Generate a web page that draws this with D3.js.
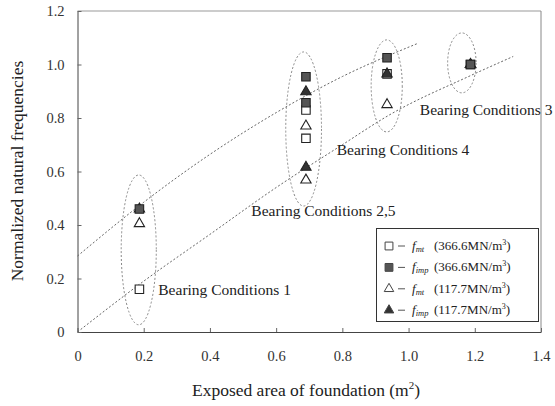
<!DOCTYPE html>
<html>
<head>
<meta charset="utf-8">
<script src="https://cdn.jsdelivr.net/npm/d3@7"></script>
<style>
  body { margin: 0; background: #fff; }
  text { font-family: "Liberation Serif", "Times New Roman", serif; fill: #222; }
</style>
</head>
<body>
<svg id="chart"></svg>
<script>
// data
// bearing conditions: 1, 2, 5, 4, 3
var exposedArea = [0.187, 0.69, 0.69, 0.935, 1.187]
var fmt366 = [0.16, 0.83, 0.724, 0.965, 1.0]   // open square
var fimp366 = [0.46, 0.954, 0.857, 1.025, 1.0] // filled square
var fmt117 = [0.405, 0.77, 0.568, 0.85, 1.0]   // open triangle
var fimp117 = [0.46, 0.898, 0.616, 0.965, 1.0] // filled triangle

// dotted trend curves
var upperCurveX = [0, 0.2, 0.4, 0.6, 0.8, 1.03]
var upperCurveY = [0.284, 0.485, 0.664, 0.82, 0.955, 1.08]
var lowerCurveX = [0, 0.2, 0.4, 0.6, 0.8, 0.94, 1.19, 1.316]
var lowerCurveY = [0, 0.19, 0.365, 0.54, 0.7, 0.81, 0.96, 1.03]

// groups circled by dashed ellipses
var groupCx = [0.185, 0.683, 0.934, 1.161]
var groupCy = [0.307, 0.759, 0.92, 1.006]
var groupRx = [0.053, 0.054, 0.047, 0.043]
var groupRy = [0.28, 0.288, 0.172, 0.112]

var groupLabels = ["Bearing Conditions 1", "Bearing Conditions 2,5", "Bearing Conditions 4", "Bearing Conditions 3"]
var labelX = [0.244, 0.525, 0.783, 1.034]
var labelY = [0.138, 0.434, 0.662, 0.811]

var xTicks = [0, 0.2, 0.4, 0.6, 0.8, 1.0, 1.2, 1.4]
var xTickLabels = ["0", "0.2", "0.4", "0.6", "0.8", "1.0", "1.2", "1.4"]
var yTicks = [0, 0.2, 0.4, 0.6, 0.8, 1.0, 1.2]
var yTickLabels = ["0", "0.2", "0.4", "0.6", "0.8", "1.0", "1.2"]

var legendSub = ["mt", "imp", "mt", "imp"]
var legendUnit = ["366.6", "366.6", "117.7", "117.7"]

var width = 555,
  height = 406

var svg = d3.select("#chart")
  .attr("width", width)
  .attr("height", height)

var x = d3.scaleLinear().domain([0, 1.4]).range([77.5, 541])
var y = d3.scaleLinear().domain([0, 1.2]).range([332, 11])

/*
 * Frame
 */

svg.append("line")
  .attr("x1", x(0)).attr("x2", x(1.4))
  .attr("y1", y(1.2)).attr("y2", y(1.2))
  .style("stroke", "#999")
svg.append("line")
  .attr("x1", x(1.4)).attr("x2", x(1.4))
  .attr("y1", y(1.2)).attr("y2", y(0))
  .style("stroke", "#888")

var xAxis = svg.append("g")
  .attr("transform", "translate(0," + y(0) + ")")
  .call(d3.axisBottom(x)
    .tickValues(xTicks)
    .tickFormat(function (d, i) { return xTickLabels[i] })
    .tickSizeInner(-4)
    .tickSizeOuter(0)
    .tickPadding(19))

var yAxis = svg.append("g")
  .attr("transform", "translate(" + x(0) + ",0)")
  .call(d3.axisLeft(y)
    .tickValues(yTicks)
    .tickFormat(function (d, i) { return yTickLabels[i] })
    .tickSizeInner(-4)
    .tickSizeOuter(0)
    .tickPadding(13))

svg.selectAll(".domain").style("stroke", "#444")
svg.selectAll(".tick line").style("stroke", "#666")
svg.selectAll(".tick text")
  .style("font-family", "Liberation Serif")
  .style("font-size", "14.5px")
  .style("fill", "#333")

// axis titles
var xTitle = svg.append("text")
  .attr("x", 306)
  .attr("y", 396)
  .attr("text-anchor", "middle")
  .style("font-size", "17.5px")
xTitle.append("tspan").text("Exposed area of foundation (m")
xTitle.append("tspan").attr("dy", -7).style("font-size", "11px").text("2")
xTitle.append("tspan").attr("dy", 7).text(")")

svg.append("text")
  .attr("transform", "translate(23,171) rotate(-90)")
  .attr("text-anchor", "middle")
  .style("font-size", "17.5px")
  .text("Normalized natural frequencies")

/*
 * Trend curves and ellipses
 */

var line = d3.line()
  .x(function (d) { return x(d[0]) })
  .y(function (d) { return y(d[1]) })
  .curve(d3.curveMonotoneX)

var curves = [d3.zip(upperCurveX, upperCurveY), d3.zip(lowerCurveX, lowerCurveY)]

svg.selectAll("path.trend")
  .data(curves)
  .enter()
  .append("path")
  .attr("class", "trend")
  .attr("d", line)
  .style("fill", "none")
  .style("stroke", "#666")
  .style("stroke-width", 1)
  .style("stroke-dasharray", "2,2")

svg.selectAll("ellipse.group")
  .data(groupCx)
  .enter()
  .append("ellipse")
  .attr("class", "group")
  .attr("cx", function (d) { return x(d) })
  .attr("cy", function (d, i) { return y(groupCy[i]) })
  .attr("rx", function (d, i) { return x(groupRx[i]) - x(0) })
  .attr("ry", function (d, i) { return y(0) - y(groupRy[i]) })
  .style("fill", "none")
  .style("stroke", "#888")
  .style("stroke-width", 1)
  .style("stroke-dasharray", "2,2")

svg.selectAll("text.glabel")
  .data(groupLabels)
  .enter()
  .append("text")
  .attr("class", "glabel")
  .attr("x", function (d, i) { return x(labelX[i]) })
  .attr("y", function (d, i) { return y(labelY[i]) })
  .style("font-size", "15.5px")
  .text(function (d) { return d })

/*
 * Markers
 */

var styles = [
  { values: fmt366, shape: d3.symbolSquare, size: 72, fill: "#fff", stroke: "#222" },
  { values: fmt117, shape: d3.symbolTriangle, size: 46, fill: "#fff", stroke: "#222" },
  { values: fimp117, shape: d3.symbolTriangle, size: 46, fill: "#333", stroke: "#222" },
  { values: fimp366, shape: d3.symbolSquare, size: 72, fill: "#555", stroke: "#222" }
]

styles.forEach(function (s) {
  svg.append("g")
    .selectAll("path")
    .data(s.values)
    .enter()
    .append("path")
    .attr("d", d3.symbol().type(s.shape).size(s.size))
    .attr("transform", function (d, i) {
      return "translate(" + x(exposedArea[i]) + "," + y(d) + ")"
    })
    .style("fill", s.fill)
    .style("stroke", s.stroke)
    .style("stroke-width", 1.1)
})

/*
 * Legend
 */

var legendStyles = [styles[0], styles[3], styles[1], styles[2]]

var legend = svg.append("g")
legend.append("rect")
  .attr("x", 376.5)
  .attr("y", 228.5)
  .attr("width", 162)
  .attr("height", 93)
  .style("fill", "#fff")
  .style("stroke", "#333")

var row = legend.selectAll("g.row")
  .data(legendStyles)
  .enter()
  .append("g")
  .attr("class", "row")
  .attr("transform", function (d, i) { return "translate(0," + (246 + i * 21.4) + ")" })

row.append("path")
  .attr("d", function (d) { return d3.symbol().type(d.shape).size(d.size * 0.85)() })
  .attr("transform", "translate(389,0)")
  .style("fill", function (d) { return d.fill })
  .style("stroke", "#444")

row.append("line")
  .attr("x1", 398).attr("x2", 405)
  .attr("y1", 0).attr("y2", 0)
  .style("stroke", "#555")

var lt = row.append("text")
  .attr("x", 412)
  .attr("y", 4)
  .style("font-size", "13px")
lt.append("tspan").style("font-style", "italic").text("f")
lt.append("tspan").attr("dy", 2).style("font-style", "italic").style("font-size", "8.5px")
  .text(function (d, i) { return legendSub[i] })
lt.append("tspan").attr("dy", -2).attr("x", 434)
  .text(function (d, i) { return "(" + legendUnit[i] + "MN/m" })
lt.append("tspan").attr("dy", -5).style("font-size", "8px").text("3")
lt.append("tspan").attr("dy", 5).text(")")
</script>
</body>
</html>
